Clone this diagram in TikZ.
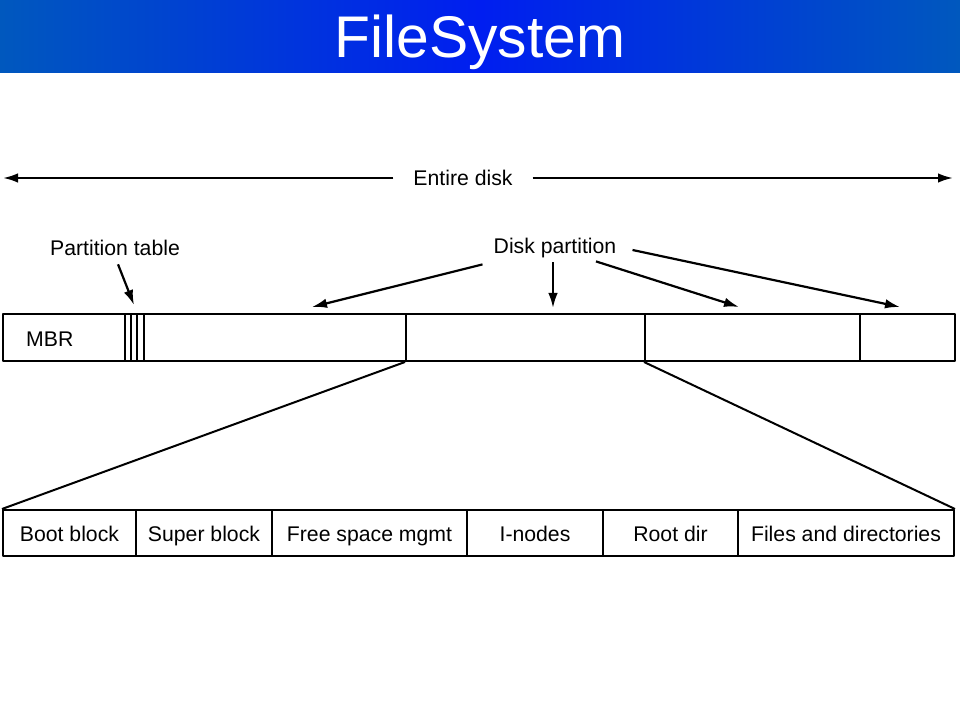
\documentclass[tikz,border=0pt]{standalone}
\usepackage{fontspec}
\setmainfont{Liberation Sans}
\usetikzlibrary{positioning,arrows.meta}
\definecolor{barside}{RGB}{0,88,190}
\definecolor{barmid}{RGB}{0,30,240}
\tikzset{
  seg/.style={draw,line width=2bp,inner sep=0pt,minimum height=47bp},
  blk/.style={draw,line width=2bp,inner sep=0pt,minimum height=46bp,text height=21bp,text depth=4.5bp,font=\fontsize{21.3}{24}\selectfont},
  lbl/.style={font=\fontsize{21.3}{24}\selectfont},
}
\begin{document}
\begin{tikzpicture}[>={Latex[length=15bp,width=9.5bp]},line join=bevel,]
\useasboundingbox (0bp,0bp) rectangle (960bp,720bp);
%% title bar
\shade [left color=barside,right color=barside,middle color=barmid] (0bp,647bp) rectangle (960bp,720bp);
\node (title) at (480bp,678bp) [text=white,font=\fontsize{59}{62}\selectfont] {FileSystem};
%% whole disk
\node (entire) at (463bp,542bp) [lbl,inner xsep=20bp] {Entire disk};
\coordinate (dleft) at (3bp,542bp);
\coordinate (dright) at (953bp,542bp);
\draw [black,line width=2.2bp,->] (entire.west) -- (dleft);
\draw [black,line width=2.2bp,->] (entire.east) -- (dright);
%% disk bar
\node (mbr) at (64bp,382.5bp) [seg,minimum width=122bp] {};
\node (mbrlbl) [lbl,inner sep=0pt,right=24bp of mbr.west,yshift=-1.5bp] {MBR};
\node (pt1) at (128bp,382.5bp) [seg,minimum width=6bp] {};
\node (pt2) at (134bp,382.5bp) [seg,minimum width=6bp] {};
\node (pt3) at (140.5bp,382.5bp) [seg,minimum width=7bp] {};
\node (part1) at (275bp,382.5bp) [seg,minimum width=262bp] {};
\node (part2) at (525.5bp,382.5bp) [seg,minimum width=239bp] {};
\node (part3) at (752.5bp,382.5bp) [seg,minimum width=215bp] {};
\node (part4) at (907.5bp,382.5bp) [seg,minimum width=95bp] {};
%% labels and pointers
\node (ptab) at (115bp,472bp) [lbl] {Partition table};
\draw [black,line width=2.2bp,->] ([xshift=3bp,yshift=-5bp]ptab.south) -- ([yshift=8bp]pt2.north);
\node (dpart) at (555bp,472bp) [lbl,inner xsep=8bp] {Disk partition};
\coordinate (p1tip) at (312bp,413bp);
\coordinate (p2tip) at (553bp,412bp);
\coordinate (p3tip) at (739bp,413bp);
\coordinate (p4tip) at (900bp,413bp);
\draw [black,line width=2.2bp,->] ([xshift=-3bp,yshift=-3bp]dpart.south west) -- (p1tip);
\draw [black,line width=2.2bp,->] ([xshift=-2bp,yshift=-1bp]dpart.south) -- (p2tip);
\draw [black,line width=2.2bp,->] ([xshift=41bp,yshift=0bp]dpart.south) -- (p3tip);
\draw [black,line width=2.2bp,->] ([xshift=8bp,yshift=-2bp]dpart.east) -- (p4tip);
%% one partition in detail
\node (boot) at (69.5bp,187bp) [blk,minimum width=133bp] {Boot block};
\node (super) at (204bp,187bp) [blk,minimum width=136bp] {Super block};
\node (free) at (369.5bp,187bp) [blk,minimum width=195bp] {Free space mgmt};
\node (inodes) at (535bp,187bp) [blk,minimum width=136bp] {I-nodes};
\node (root) at (670.5bp,187bp) [blk,minimum width=135bp] {Root dir};
\node (files) at (846bp,187bp) [blk,minimum width=216bp] {Files and directories};
\draw [black,line width=2bp] (part2.south west) -- (boot.north west);
\draw [black,line width=2bp] (part3.south west) -- (files.north east);
%
\end{tikzpicture}
\end{document}
